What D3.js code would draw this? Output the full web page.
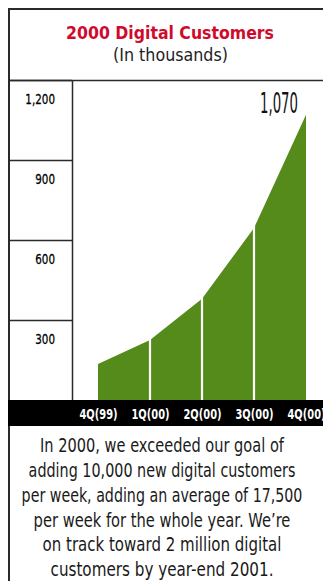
<!DOCTYPE html>
<html><head><meta charset="utf-8">
<script src="https://cdn.jsdelivr.net/npm/d3@7"></script>
<style>
html,body{margin:0;padding:0;background:#fff;}
svg{display:block;}
text{font-family:"Liberation Sans Narrow","Arial Narrow","DejaVu Sans",sans-serif;}
</style></head>
<body>
<script>
const categories = ["4Q(99)","1Q(00)","2Q(00)","3Q(00)","4Q(00)"];
const customers = [135, 225, 380, 645, 1070];
const yTicks = [300, 600, 900, 1200];
const title = "2000 Digital Customers";
const subtitle = "(In thousands)";
const endLabel = "1,070";
const noteLines = [
  "In 2000, we exceeded our goal of",
  "adding 10,000 new digital customers",
  "per week, adding an average of 17,500",
  "per week for the whole year. We\u2019re",
  "on track toward 2 million digital",
  "customers by year-end 2001."
];
const noteWidths = [244, 267, 281, 257, 239, 223];

const W = 323, H = 581;
const svg = d3.select("body").append("svg").attr("width", W).attr("height", H);
const lineCol = "#2a2a2a";

function squeezeTo(el, target) {
  const w = el.getComputedTextLength();
  const sx = target / w;
  const ax = +el.getAttribute("x") || 0;
  el.setAttribute("transform", `translate(${ax},0) scale(${sx},1) translate(${-ax},0)`);
}
function squeezeBy(el, sx) {
  const ax = +el.getAttribute("x") || 0;
  el.setAttribute("transform", `translate(${ax},0) scale(${sx},1) translate(${-ax},0)`);
}

const y = d3.scaleLinear().domain([0, 1200]).range([400, 80]);
const x = d3.scalePoint().domain(categories).range([98, 306]);

// frame
svg.append("line").attr("x1", 8).attr("x2", W).attr("y1", 9).attr("y2", 9).attr("stroke", lineCol).attr("stroke-width", 2);
svg.append("line").attr("x1", 9).attr("x2", 9).attr("y1", 8).attr("y2", H).attr("stroke", lineCol).attr("stroke-width", 2);
svg.append("line").attr("x1", 8).attr("x2", W).attr("y1", y(1200)+0.5).attr("y2", y(1200)+0.5).attr("stroke", lineCol).attr("stroke-width", 1.5);
svg.append("line").attr("x1", 72.5).attr("x2", 72.5).attr("y1", y(1200)).attr("y2", y(0)).attr("stroke", lineCol).attr("stroke-width", 1.5);

// title
svg.append("text").attr("x", 170).attr("y", 39).attr("text-anchor", "middle")
  .attr("fill", "#cf0a2c").attr("font-weight", "bold").attr("font-size", 18.5)
  .text(title).each(function(){ squeezeTo(this, 208); });
svg.append("text").attr("x", 170.5).attr("y", 61).attr("text-anchor", "middle")
  .attr("fill", "#222").attr("font-size", 18)
  .text(subtitle).each(function(){ squeezeTo(this, 115); });

// y axis in left column
const yAxis = d3.axisRight(y).tickValues(yTicks).tickSize(63).tickFormat(d3.format(","));
const gy = svg.append("g").attr("transform", "translate(9,0)").call(yAxis);
gy.select(".domain").remove();
gy.selectAll(".tick line").attr("stroke", lineCol).attr("stroke-width", 1.5);
gy.selectAll(".tick text").attr("x", 46).attr("dy", 0).attr("y", 23.5)
  .attr("text-anchor", "end").attr("fill", "#000").attr("font-size", 14)
  .attr("stroke", "#000").attr("stroke-width", 0.3)
  .attr("font-family", "'Liberation Sans Narrow','Arial Narrow','DejaVu Sans',sans-serif")
  .each(function(){ squeezeBy(this, 0.74); });

// area
const area = d3.area().x((d, i) => x(categories[i])).y0(y(0)).y1(d => y(d));
svg.append("path").datum(customers).attr("d", area).attr("fill", "#548b1b");

// white separators
svg.selectAll("line.sep").data(categories.slice(1, -1)).enter().append("line")
  .attr("class", "sep").attr("x1", d => x(d)).attr("x2", d => x(d))
  .attr("y1", (d) => y(customers[categories.indexOf(d)]) - 3).attr("y2", y(0))
  .attr("stroke", "#fff").attr("stroke-width", 2.2);

// end label
svg.append("text").attr("x", 298).attr("y", 113).attr("text-anchor", "end")
  .attr("fill", "#111").attr("font-size", 29)
  .text(endLabel).each(function(){ squeezeTo(this, 38); });

// black band with x axis
svg.append("rect").attr("x", 8).attr("y", y(0)).attr("width", W - 8).attr("height", 26).attr("fill", "#000");
const xAxis = d3.axisBottom(x).tickSize(0).tickPadding(0);
const gx = svg.append("g").attr("transform", `translate(0,${y(0)})`).call(xAxis);
gx.select(".domain").remove();
gx.selectAll(".tick text").attr("y", 19).attr("dy", 0).attr("fill", "#fff")
  .attr("font-size", 14).attr("font-weight", "bold")
  .attr("font-family", "'Liberation Sans Narrow','Arial Narrow','DejaVu Sans',sans-serif")
  .each(function(){ squeezeTo(this, 38); });

// note
svg.selectAll("text.note").data(noteLines).enter().append("text")
  .attr("class", "note").attr("x", 162).attr("y", (d, i) => 452.5 + i * 24.7)
  .attr("text-anchor", "middle").attr("fill", "#1a1a1a").attr("font-size", 20)
  .text(d => d)
  .each(function(d, i){ squeezeTo(this, noteWidths[i]); });
</script>
</body></html>
